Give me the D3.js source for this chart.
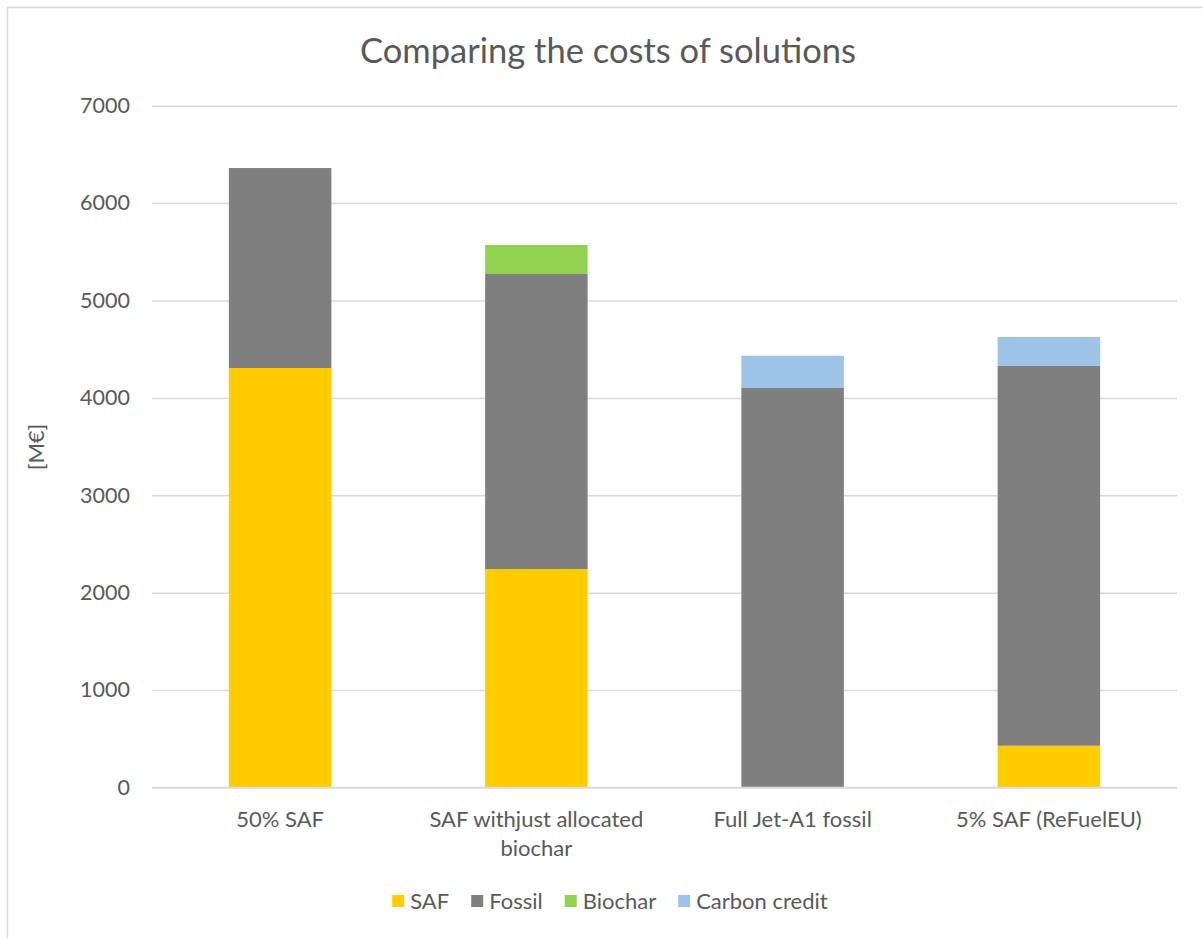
<!DOCTYPE html>
<html><head><meta charset="utf-8">
<script src="https://cdn.jsdelivr.net/npm/d3@7"></script>
<style>body{margin:0;background:#fff}svg{display:block}text{font-family:Lato,"Open Sans",sans-serif;fill:#595959}</style>
</head><body><svg id="c" width="1203" height="938"></svg>
<script>
const categories = ["50% SAF", "SAF withjust allocated|biochar", "Full Jet-A1 fossil", "5% SAF (ReFuelEU)"];
const seriesNames = ["SAF", "Fossil", "Biochar", "Carbon credit"];
const safValues = [4307, 2243, 0, 429];
const fossilValues = [2053, 3029, 4102, 3899];
const biocharValues = [0, 298, 0, 0];
const carbonValues = [0, 0, 331, 297];
const yTicks = [0, 1000, 2000, 3000, 4000, 5000, 6000, 7000];
const colors = ["#FFCC00", "#7F7F7F", "#92D050", "#9DC3E6"];

const svg = d3.select("#c");
svg.append("rect").attr("x",7.5).attr("y",7.5).attr("width",1210).attr("height",950)
  .attr("fill","#fff").attr("stroke","#d9d9d9").attr("stroke-width",1.5);

const x = d3.scaleBand().domain(categories).range([152,1177]).paddingInner(0.6).paddingOuter(0.3);
const y = d3.scaleLinear().domain([0,7000]).range([787.5,105.7]);

const table = categories.map((c,i)=>({cat:c, SAF:safValues[i], Fossil:fossilValues[i], Biochar:biocharValues[i], "Carbon credit":carbonValues[i]}));
const stacked = d3.stack().keys(seriesNames)(table);

const yAxis = d3.axisLeft(y).tickValues(yTicks).tickSize(-(1177-152)).tickFormat(d3.format("d")).tickPadding(22);
const gy = svg.append("g").attr("transform","translate(152,0)").call(yAxis);
gy.select(".domain").remove();
gy.selectAll(".tick line").attr("stroke","#d9d9d9").attr("stroke-width",1.5);
gy.selectAll(".tick text").style("font-size","21.5px").attr("fill","#595959");

svg.append("g").selectAll("g").data(stacked).join("g").attr("fill",(d,i)=>colors[i])
  .selectAll("rect").data(d=>d).join("rect")
  .attr("x",d=>x(d.data.cat)).attr("width",x.bandwidth())
  .attr("y",d=>y(d[1])).attr("height",d=>y(d[0])-y(d[1]));

svg.append("line").attr("x1",152).attr("x2",1177).attr("y1",y(0)).attr("y2",y(0)).attr("stroke","#d9d9d9").attr("stroke-width",1.5);

const xl = svg.append("g").selectAll("text").data(categories).join("text")
  .attr("text-anchor","middle").style("font-size","22px")
  .attr("transform",d=>`translate(${x(d)+x.bandwidth()/2},827)`);
xl.each(function(d){
  const parts = d.split("|");
  d3.select(this).selectAll("tspan").data(parts).join("tspan").attr("x",0).attr("dy",(p,i)=>i?29:0).text(p=>p);
});

svg.append("text").attr("x",608).attr("y",63).attr("text-anchor","middle").style("font-size","34.5px").text("Comparing the costs of solutions");

svg.append("text").attr("transform","translate(44,447) rotate(-90)").attr("text-anchor","middle").style("font-size","22px").text("[M€]");

const lg = svg.append("g");
let lx = 0;
const items = lg.selectAll("g").data(seriesNames).join("g");
items.append("rect").attr("width",12).attr("height",12).attr("y",-6).attr("fill",(d,i)=>colors[i]);
items.append("text").attr("x",18).attr("dy","0.35em").style("font-size","22px").text(d=>d);
items.each(function(){ const w = this.getBBox().width; d3.select(this).attr("transform",`translate(${lx},0)`); lx += w + 22; });
lg.attr("transform",`translate(${610 - (lx-22)/2},901)`);
</script></body></html>
